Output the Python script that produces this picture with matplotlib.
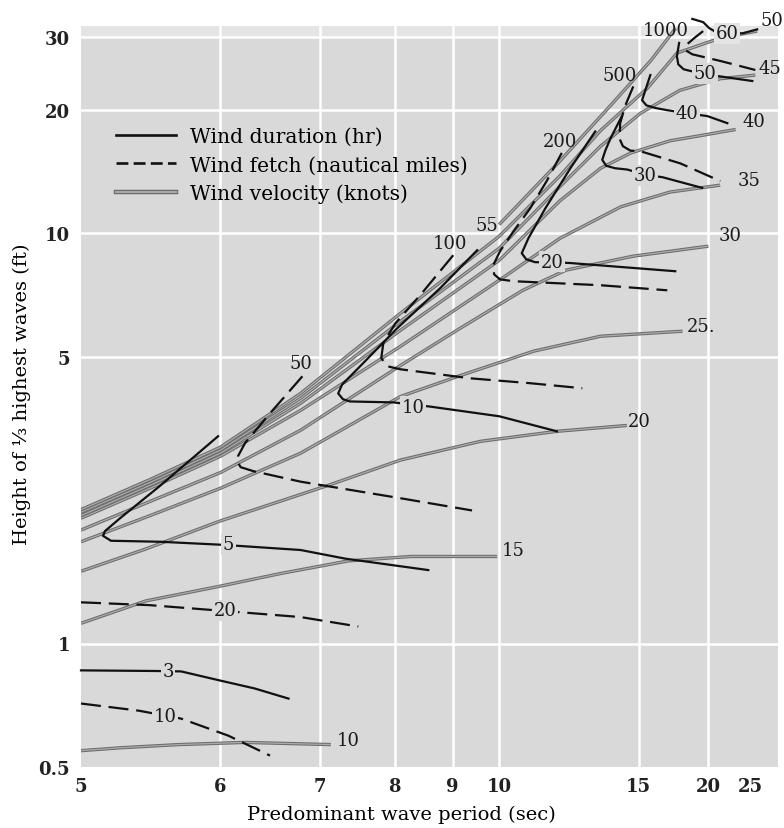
import numpy as np
import matplotlib
matplotlib.use("Agg")
import matplotlib.pyplot as plt
import matplotlib.patheffects as pe
from matplotlib.lines import Line2D
from matplotlib.ticker import FixedLocator, NullLocator

plt.rcParams['font.family'] = ['DejaVu Serif', 'DejaVu Sans']

# wind velocity curves (knots) : period (sec) / height (ft)
v10_T = [5.0, 5.25, 5.66, 6.22, 7.13]
v10_H = [0.548, 0.557, 0.567, 0.574, 0.567]
v15_T = [5.0, 5.42, 6.0, 6.56, 7.35, 8.26, 9.95]
v15_H = [1.12, 1.27, 1.38, 1.48, 1.59, 1.63, 1.63]
v20_T = [5.0, 5.42, 6.0, 7.1, 8.09, 9.57, 11.6, 14.4]
v20_H = [1.50, 1.70, 1.99, 2.43, 2.80, 3.11, 3.29, 3.40]
v25_T = [5.0, 5.45, 6.0, 6.78, 8.09, 9.15, 10.9, 13.2, 17.8]
v25_H = [1.77, 2.05, 2.39, 2.91, 4.00, 4.50, 5.16, 5.61, 5.77]
v30_T = [5.0, 5.45, 6.0, 6.78, 8.09, 9.15, 10.6, 11.9, 14.7, 20.0]
v30_H = [1.89, 2.22, 2.61, 3.31, 4.76, 5.87, 7.26, 8.13, 8.79, 9.30]
v35_T = [5.0, 5.45, 6.0, 6.78, 8.09, 10.0, 11.7, 14.1, 16.9, 21.2]
v35_H = [2.02, 2.39, 2.86, 3.70, 5.30, 7.68, 9.72, 11.6, 12.6, 13.1]
v40_T = [5.0, 5.45, 6.0, 6.78, 8.09, 10.0, 11.7, 13.2, 14.6, 16.9, 19.3, 23.0]
v40_H = [2.05, 2.43, 2.91, 3.85, 5.80, 8.59, 12.0, 14.4, 15.7, 16.8, 17.3, 17.9]
v45_T = [5.0, 5.45, 6.0, 6.78, 8.09, 10.0, 11.7, 13.2, 15.1, 17.6, 21.2, 25.8]
v45_H = [2.09, 2.47, 2.96, 3.96, 6.10, 9.19, 13.0, 16.3, 19.6, 22.3, 23.8, 24.3]
v50_T = [5.0, 5.45, 6.0, 6.78, 8.09, 10.0, 11.7, 13.2, 15.5, 17.4, 21.2, 26.1]
v50_H = [2.12, 2.51, 3.01, 4.07, 6.38, 9.83, 13.8, 17.8, 22.6, 27.5, 29.9, 31.1]
v55_T = [10.0, 11.7, 13.6, 15.7, 17.3]
v55_H = [10.5, 15.0, 20.4, 26.4, 31.6]

# wind duration curves (hr)
d3_T = [5.0, 5.49, 5.68, 6.0, 6.31, 6.65]
d3_H = [0.86, 0.857, 0.855, 0.812, 0.777, 0.734]
d5_T = [5.98, 5.52, 5.245, 5.148, 5.135, 5.186, 5.525, 6.02, 6.78, 7.31, 8.55]
d5_H = [3.20, 2.42, 2.02, 1.88, 1.83, 1.78, 1.77, 1.74, 1.69, 1.61, 1.51]
d10_T = [9.5, 8.76, 8.04, 7.48, 7.27, 7.22, 7.28, 7.37, 7.98, 8.58, 10.0, 11.6]
d10_H = [9.09, 7.34, 5.87, 4.69, 4.28, 4.07, 3.94, 3.89, 3.87, 3.78, 3.58, 3.29]
d20_T = [12.98, 12.05, 11.24, 10.75, 10.57, 10.69, 10.94, 11.45, 12.05, 17.27]
d20_H = [17.7, 14.4, 11.5, 9.72, 8.94, 8.64, 8.50, 8.50, 8.46, 8.08]
d30_T = [14.15, 13.62, 13.40, 13.27, 13.44, 13.84, 14.41, 15.48, 16.39, 19.43]
d30_H = [19.3, 17.0, 15.9, 15.1, 14.6, 14.4, 14.3, 13.85, 13.7, 12.9]
d40_T = [15.66, 15.37, 15.19, 15.43, 15.95, 16.72, 18.17, 19.91, 22.0]
d40_H = [24.3, 22.3, 21.1, 20.5, 20.2, 19.95, 19.6, 19.3, 18.55]
d50_T = [17.55, 17.39, 17.49, 17.89, 18.58, 19.72, 21.0, 25.33]
d50_H = [29.1, 27.0, 25.8, 25.1, 24.8, 24.6, 24.15, 23.5]
d60_T = [18.58, 19.52, 20.1, 20.8, 23.9, 26.1]
d60_H = [33.3, 32.7, 31.6, 30.9, 30.7, 31.4]

# wind fetch curves (nautical miles)
f10_T = [5.0, 5.37, 5.68, 6.07, 6.46]
f10_H = [0.714, 0.686, 0.656, 0.596, 0.533]
f20_T = [5.0, 5.45, 6.04, 6.78, 7.48]
f20_H = [1.26, 1.24, 1.20, 1.16, 1.10]
f50_T = [6.80, 6.46, 6.22, 6.155, 6.147, 6.18, 6.30, 6.78, 8.09, 9.39]
f50_H = [4.48, 3.64, 3.08, 2.86, 2.78, 2.69, 2.63, 2.48, 2.26, 2.11]
f100_T = [9.01, 8.41, 8.01, 7.83, 7.80, 7.89, 8.09, 9.35, 10.8, 12.48]
f100_H = [8.84, 7.06, 6.03, 5.39, 4.96, 4.74, 4.66, 4.43, 4.31, 4.19]
f200_T = [11.76, 11.28, 10.80, 10.35, 10.02, 9.86, 9.88, 10.02, 10.35, 13.19, 16.72]
f200_H = [15.7, 13.4, 11.5, 10.1, 9.04, 8.36, 7.94, 7.72, 7.64, 7.47, 7.26]
f500_T = [14.72, 14.32, 14.07, 14.04, 14.2, 14.57, 15.09, 17.64, 21.22]
f500_H = [22.8, 20.5, 18.55, 17.0, 16.3, 15.9, 15.85, 14.8, 13.4]
f1000_T = [19.52, 18.74, 18.17, 18.02, 18.58, 21.22, 25.8]
f1000_H = [31.1, 29.9, 28.9, 27.95, 27.3, 26.3, 25.0]

x_ticks = [5, 6, 7, 8, 9, 10, 15, 20, 25]
y_ticks = [0.5, 1, 5, 10, 20, 30]
y_tick_labels = ['0.5', '1', '5', '10', '20', '30']

BG = '#d9d9d9'
TOP = '#e4e4e4'


def fwd(t):
    t = np.asarray(t, dtype=float)
    with np.errstate(divide='ignore', invalid='ignore'):
        return -1.0 / t


def inv(u):
    u = np.asarray(u, dtype=float)
    with np.errstate(divide='ignore', invalid='ignore'):
        return -1.0 / u


fig = plt.figure(figsize=(7.84, 8.29), dpi=100)
ax = fig.add_axes([81 / 784, 1 - 768 / 829, 697 / 784, 741 / 829])
ax.set_xscale('function', functions=(fwd, inv))
ax.set_yscale('log')
ax.set_xlim(5, 30)
ax.set_ylim(0.5, 32)
ax.set_facecolor(BG)
for s in ax.spines.values():
    s.set_visible(False)
ax.axhspan(30, 32, color=TOP, lw=0, zorder=0)
for t in [6, 7, 8, 9, 10, 15, 20]:
    ax.axvline(t, color='white', lw=1.8, zorder=1)
for h in [1, 5, 10, 20, 30]:
    ax.axhline(h, color='white', lw=1.8, zorder=1)

ax.xaxis.set_major_locator(FixedLocator(x_ticks))
ax.xaxis.set_minor_locator(NullLocator())
ax.set_xticks(x_ticks, [str(t) for t in x_ticks], fontweight='bold')
ax.set_yticks(y_ticks, y_tick_labels, fontweight='bold')
ax.yaxis.set_minor_locator(NullLocator())
ax.tick_params(length=0, labelsize=13, colors='#222222')
ax.tick_params(axis='x', pad=7)
ax.tick_params(axis='y', pad=8)

vel_fx = [pe.Stroke(linewidth=2.4, foreground='#6c6c6c'), pe.Normal()]
velocity = [(v10_T, v10_H), (v15_T, v15_H), (v20_T, v20_H), (v25_T, v25_H),
            (v30_T, v30_H), (v35_T, v35_H), (v40_T, v40_H), (v45_T, v45_H),
            (v50_T, v50_H), (v55_T, v55_H)]
for T, H in velocity:
    ax.plot(T, H, color='#ababab', lw=0.9, path_effects=vel_fx,
            solid_capstyle='butt', zorder=2)

duration = [(d3_T, d3_H), (d5_T, d5_H), (d10_T, d10_H), (d20_T, d20_H),
            (d30_T, d30_H), (d40_T, d40_H), (d50_T, d50_H), (d60_T, d60_H)]
for T, H in duration:
    ax.plot(T, H, color='#111111', lw=1.6, solid_joinstyle='round',
            zorder=3, clip_on=False)

fetch = [(f10_T, f10_H), (f20_T, f20_H), (f50_T, f50_H), (f100_T, f100_H),
         (f200_T, f200_H), (f500_T, f500_H), (f1000_T, f1000_H)]
for T, H in fetch:
    ax.plot(T, H, color='#111111', lw=1.6, ls=(0, (9, 3.5)),
            zorder=3, clip_on=False)

lab = dict(fontsize=13, color='#1a1a1a', va='center', zorder=5)
gap = dict(facecolor=BG, edgecolor='none', pad=1.0)

# velocity labels at the curve ends
for s, t, h in [('10', 7.2, 0.583), ('15', 10.05, 1.686), ('20', 14.46, 3.49),
                ('25.', 18.1, 5.93), ('30', 21.0, 9.89), ('35', 23.2, 13.47),
                ('40', 23.9, 18.76), ('45', 26.3, 25.25), ('50', 26.6, 33.06)]:
    ax.text(t, h, s, ha='left', **lab)
ax.text(9.97, 10.5, '55', ha='right', **lab)

# duration labels
for s, t, h in [('3', 5.58, 0.855), ('5', 6.07, 1.744), ('10', 8.29, 3.78),
                ('20', 11.45, 8.52), ('30', 15.37, 13.85), ('40', 18.17, 19.6),
                ('50', 19.72, 24.56)]:
    ax.text(t, h, s, ha='center', bbox=gap, **lab)
ax.text(22.0, 30.74, '60', ha='center',
        bbox=dict(facecolor=TOP, edgecolor='none', pad=1.0), **lab)

# fetch labels
ax.text(5.56, 0.667, '10', ha='center', bbox=gap, **lab)
ax.text(6.04, 1.204, '20', ha='center', bbox=gap, **lab)
for s, t, h in [('50', 6.78, 4.82), ('100', 8.95, 9.45), ('200', 11.71, 16.76),
                ('500', 14.07, 24.29), ('1000', 16.59, 31.27)]:
    ax.text(t, h, s, ha='center', **lab)

handles = [
    Line2D([], [], color='#111111', lw=1.9),
    Line2D([], [], color='#111111', lw=1.9, ls=(0, (4.5, 2))),
    Line2D([], [], color='#ababab', lw=1.4,
           path_effects=[pe.Stroke(linewidth=3.2, foreground='#6c6c6c'), pe.Normal()]),
]
labels = ['Wind duration (hr)', 'Wind fetch (nautical miles)', 'Wind velocity (knots)']
ax.legend(handles, labels, loc='upper left',
          bbox_to_anchor=(116 / 784, 1 - 128 / 829), bbox_transform=fig.transFigure,
          frameon=False, fontsize=14.6, handlelength=2.95, handletextpad=0.72,
          labelspacing=0.46, borderpad=0, borderaxespad=0)

fig.text(401 / 784, 1 - 815 / 829, 'Predominant wave period (sec)',
         ha='center', va='center', fontsize=14)
fig.text(22 / 784, 1 - 394 / 829, 'Height of \u2153 highest waves (ft)',
         ha='center', va='center', rotation=90, fontsize=14)

fig.savefig('out.png', dpi=100, facecolor='white')
